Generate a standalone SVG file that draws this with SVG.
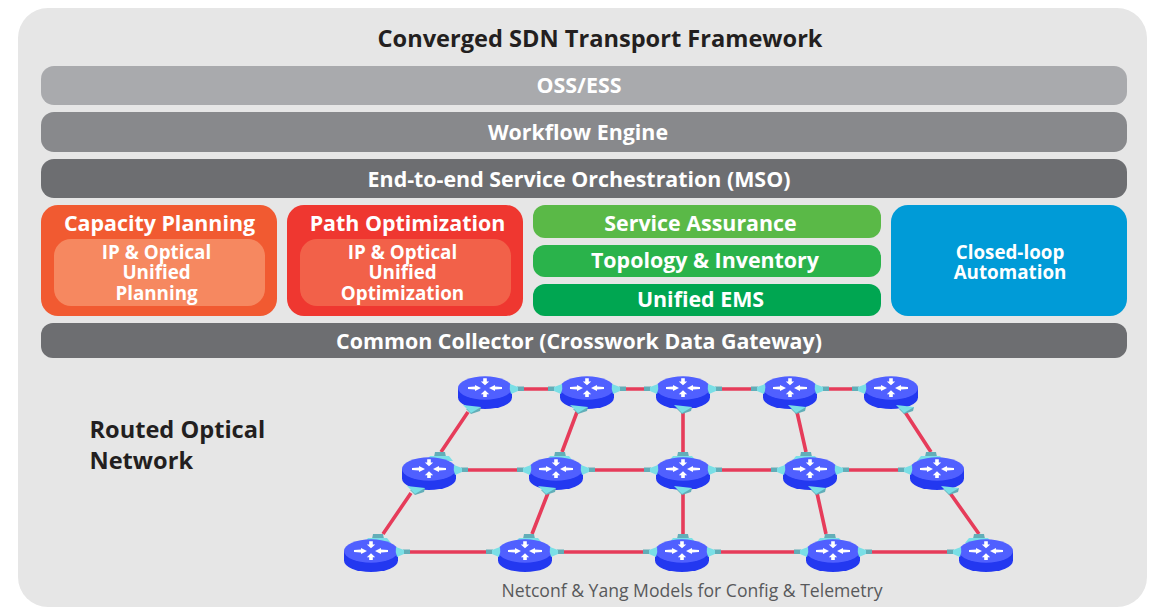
<svg xmlns="http://www.w3.org/2000/svg" width="1156" height="607" viewBox="0 0 1156 607">
<style>
text{font-family:"Open Sans","Noto Sans","DejaVu Sans",sans-serif;font-weight:700;text-anchor:middle;fill:#fff}
.t1{font-size:21.400px}.t2{font-size:18.800px}.dark{fill:#231f20;font-size:23.600px}
.start{text-anchor:start}
.cap{font-size:17.600px;font-weight:400;fill:#58595b}
.link{stroke:#e63c5a;stroke-width:3.600;fill:none}
.lt{fill:#7adfe6}.dk{fill:#62aeb8}
</style>
<defs>
<g id="router">
<path d="M-27 0V9.500A27 11.500 0 0 0 27 9.500V0Z" fill="#2338f0"/>
<ellipse cx="0" cy="0" rx="27" ry="11.700" fill="#5060ff"/>
<path fill="#fff" d="M-1.800-9.800H1.800V-6.600H4.200L0-2.700L-4.200-6.600H-1.800ZM-1.800 9H1.800V6.200H4.200L0 2.300L-4.200 6.200H-1.800ZM-17-.9L-10-1.500V-3L-4 0L-10 3V1.500L-17 .9ZM17-.9L10-1.500V-3L4 0L10 3V1.500L17 .9Z"/>
</g>
<g id="pr"><rect x="32" y="-1.500" width="7" height="4.500" class="dk"/><path d="M25-4L33-1V3L26 6Q24 1 25-4Z" class="lt"/></g>
<g id="pl"><rect x="-39" y="-1.500" width="7" height="4.500" class="dk"/><path d="M-25-4L-33-1V3L-26 6Q-24 1-25-4Z" class="lt"/></g>
<g id="pb"><path d="M-4 19L-5 23L-14 26L-19 21Z" class="dk"/><path d="M-22 17L-4 19L-14 25Z" class="lt"/></g>
<g id="pt"><path d="M-1-17H9L10-12H-2Z" class="dk"/><path d="M-6-13H13L17-8H-10Z" class="lt"/></g>
</defs>
<rect x="18" y="8" width="1129" height="599" rx="30" fill="#e6e6e6"/>
<text id="title" class="dark" x="600" y="47">Converged SDN Transport Framework</text>
<g id="oss"><rect x="41" y="66" width="1086" height="39" rx="13" fill="#a9aaad"/><text class="t1" x="579" y="93">OSS/ESS</text></g>
<g id="workflow"><rect x="41" y="112" width="1086" height="40" rx="13" fill="#88898c"/><text class="t1" x="578" y="140">Workflow Engine</text></g>
<g id="mso"><rect x="41" y="159" width="1086" height="39" rx="13" fill="#6d6e71"/><text class="t1" x="579" y="187">End-to-end Service Orchestration (MSO)</text></g>
<g id="capacity"><rect x="41" y="205" width="236" height="111" rx="17" fill="#f15a31"/><rect x="54" y="239" width="211" height="67" rx="17" fill="#f68860"/><text class="t1" x="159.500" y="231">Capacity Planning</text><text class="t2" x="156.500" y="259">IP &amp; Optical</text><text class="t2" x="156.500" y="279">Unified</text><text class="t2" x="156.500" y="300">Planning</text></g>
<g id="path"><rect x="287" y="205" width="236" height="111" rx="17" fill="#ef3730"/><rect x="300" y="239" width="211" height="67" rx="17" fill="#f26149"/><text class="t1" x="407.500" y="231">Path Optimization</text><text class="t2" x="402.500" y="259">IP &amp; Optical</text><text class="t2" x="402.500" y="279">Unified</text><text class="t2" x="402.500" y="300">Optimization</text></g>
<g id="assurance"><rect x="533" y="205" width="348" height="33" rx="12" fill="#5ab947"/><text class="t1" x="700.500" y="231">Service Assurance</text></g>
<g id="topology"><rect x="533" y="245" width="348" height="32" rx="12" fill="#2ab34b"/><text class="t1" x="705" y="268">Topology &amp; Inventory</text></g>
<g id="ems"><rect x="533" y="284" width="348" height="32" rx="12" fill="#00a651"/><text class="t1" x="700.500" y="307">Unified EMS</text></g>
<g id="closed"><rect x="891" y="205" width="236" height="111" rx="17" fill="#009bd7"/><text class="t2" x="1010" y="259">Closed-loop</text><text class="t2" x="1010" y="279">Automation</text></g>
<g id="collector"><rect x="41" y="323" width="1086" height="35" rx="12" fill="#6d6e71"/><text class="t1" x="579" y="349">Common Collector (Crosswork Data Gateway)</text></g>
<g id="network-label"><text class="dark start" x="89.500" y="438">Routed Optical</text><text class="dark start" x="89.500" y="469">Network</text></g>
<text id="caption" class="cap" x="692" y="597">Netconf &amp; Yang Models for Config &amp; Telemetry</text>
<g id="connectors">
<path class="link" d="M485 389H891M429 470H937M371 552H986M468 412L441 452M577 412L562 452M683 412V452M797 412L806 452M905 412L931 452M411 493L383 534M548 493L532 534M683 493V534M817 493L826 534M950 493L979 534"/>
</g>
<g id="r11"><use href="#router" x="485" y="388"/><use href="#pr" x="485" y="388"/><use href="#pb" x="485" y="388"/></g>
<g id="r12"><use href="#router" x="587" y="388"/><use href="#pl" x="587" y="388"/><use href="#pr" x="587" y="388"/><use href="#pb" x="592" y="388"/></g>
<g id="r13"><use href="#router" x="683" y="388"/><use href="#pl" x="683" y="388"/><use href="#pr" x="683" y="388"/><use href="#pb" x="696" y="388"/></g>
<g id="r14"><use href="#router" x="790" y="388"/><use href="#pl" x="790" y="388"/><use href="#pr" x="790" y="388"/><use href="#pb" x="810" y="388"/></g>
<g id="r15"><use href="#router" x="891" y="388"/><use href="#pl" x="891" y="388"/><use href="#pb" x="918" y="388"/></g>
<g id="r21"><use href="#pt" x="436" y="469"/><use href="#router" x="429" y="469"/><use href="#pr" x="429" y="469"/><use href="#pb" x="429" y="469"/></g>
<g id="r22"><use href="#pt" x="556" y="469"/><use href="#router" x="556" y="469"/><use href="#pl" x="556" y="469"/><use href="#pr" x="556" y="469"/><use href="#pb" x="560" y="469"/></g>
<g id="r23"><use href="#pt" x="679" y="469"/><use href="#router" x="683" y="469"/><use href="#pl" x="683" y="469"/><use href="#pr" x="683" y="469"/><use href="#pb" x="696" y="469"/></g>
<g id="r24"><use href="#pt" x="802" y="469"/><use href="#router" x="810" y="469"/><use href="#pl" x="810" y="469"/><use href="#pr" x="810" y="469"/><use href="#pb" x="830" y="469"/></g>
<g id="r25"><use href="#pt" x="927" y="469"/><use href="#router" x="937" y="469"/><use href="#pl" x="937" y="469"/><use href="#pb" x="963" y="469"/></g>
<g id="r31"><use href="#pt" x="374" y="551"/><use href="#router" x="371" y="551"/><use href="#pr" x="371" y="551"/></g>
<g id="r32"><use href="#pt" x="525" y="551"/><use href="#router" x="525" y="551"/><use href="#pl" x="525" y="551"/><use href="#pr" x="525" y="551"/></g>
<g id="r33"><use href="#pt" x="679" y="551"/><use href="#router" x="682" y="551"/><use href="#pl" x="682" y="551"/><use href="#pr" x="682" y="551"/></g>
<g id="r34"><use href="#pt" x="826" y="551"/><use href="#router" x="833" y="551"/><use href="#pl" x="833" y="551"/><use href="#pr" x="833" y="551"/></g>
<g id="r35"><use href="#pt" x="975" y="551"/><use href="#router" x="986" y="551"/><use href="#pl" x="986" y="551"/></g>
</svg>
